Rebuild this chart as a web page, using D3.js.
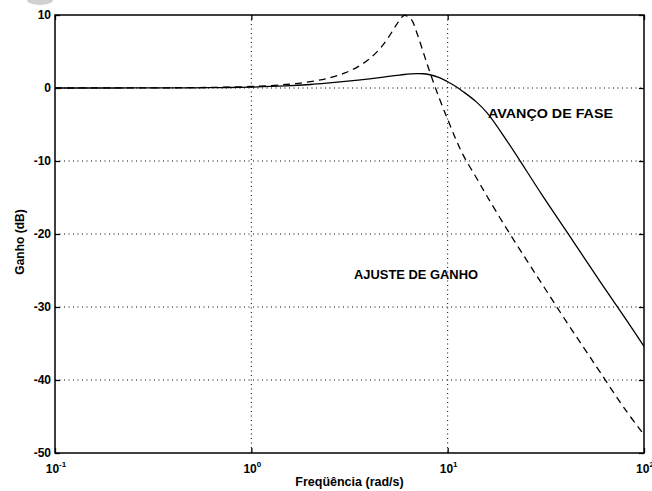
<!DOCTYPE html>
<html>
<head>
  <meta charset=utf-8 />
  <title>ganho</title>
  <script src="https://cdn.jsdelivr.net/npm/d3@7"></script>
  <style>
    body { margin: 0; background: white; }
    text { font-family: "Liberation Sans", Arial, sans-serif; fill: black; }
  </style>
</head>
<body>
<div id="vis"></div>
<script>
var w = 652, h = 491;
var margin = {left: 55, right: 8, top: 15, bottom: 38};

// frequencias lidas (rad/s)
var freq = [0.1, 0.2, 0.3, 0.5, 0.7, 1, 1.5, 2, 2.5, 3, 3.5, 4, 4.5, 5, 5.5, 6, 6.5,
            7, 7.5, 8, 9, 10, 11, 12, 14, 16, 20, 25, 30, 40, 50, 60, 80, 100];
// avanco de fase (linha cheia), dB
var avanco = [0, 0, 0.01, 0.03, 0.06, 0.12, 0.28, 0.48, 0.7, 0.9, 1.08, 1.25, 1.42, 1.58, 1.72, 1.85, 1.93,
              1.97, 1.95, 1.85, 1.45, 0.85, 0.2, -0.5, -1.9, -3.5, -7.2, -11.2, -14.5, -19.5, -23.4, -26.6, -31.5, -35.4];
// ajuste de ganho (tracejada), dB
var ajuste = [0, 0.01, 0.02, 0.05, 0.1, 0.21, 0.48, 0.87, 1.39, 2.07, 2.93, 4.01, 5.34, 6.96, 8.71, 9.93, 9.46,
              7.41, 4.96, 2.67, -1.2, -4.3, -7.0, -9.2, -12.3, -15.0, -19.3, -23.4, -26.7, -31.9, -35.8, -39.0, -44.0, -47.5];

var xTicks = [0.1, 1, 10, 100];
var xExp = ["-1", "0", "1", "2"];
var yTicks = [10, 0, -10, -20, -30, -40, -50];

var svg = d3.select("#vis").append("svg")
  .attr("width", w)
  .attr("height", h);

// mancha cinza do canto
svg.append("ellipse")
  .attr("cx", 40).attr("cy", 0).attr("rx", 13).attr("ry", 5)
  .attr("fill", "#d0d0d0");

var x = d3.scaleLog().domain([0.1, 100]).range([margin.left, w - margin.right]);
var y = d3.scaleLinear().domain([-50, 10]).range([h - margin.bottom, margin.top]);

var x0 = x.range()[0], x1 = x.range()[1];
var y0 = y.range()[1], y1 = y.range()[0];

// grade pontilhada
svg.selectAll(".gx").data(xTicks.slice(1, 3)).enter().append("line")
  .attr("x1", function(d) { return x(d); }).attr("x2", function(d) { return x(d); })
  .attr("y1", y0).attr("y2", y1)
  .attr("stroke", "black").attr("stroke-width", 1).attr("stroke-dasharray", "1,3.5");
svg.selectAll(".gy").data(yTicks.slice(1, 6)).enter().append("line")
  .attr("x1", x0).attr("x2", x1)
  .attr("y1", function(d) { return y(d); }).attr("y2", function(d) { return y(d); })
  .attr("stroke", "black").attr("stroke-width", 1).attr("stroke-dasharray", "1,3.5");

// curvas
var line = d3.line()
  .x(function(d) { return x(d[0]); })
  .y(function(d) { return y(d[1]); })
  .curve(d3.curveCatmullRom.alpha(0.5));

svg.append("path")
  .attr("d", line(d3.zip(freq, ajuste)))
  .attr("fill", "none").attr("stroke", "black").attr("stroke-width", 1.3)
  .attr("stroke-dasharray", "7,5");
svg.append("path")
  .attr("d", line(d3.zip(freq, avanco)))
  .attr("fill", "none").attr("stroke", "black").attr("stroke-width", 1.3);

// eixos (ticks para dentro)
var axB = d3.axisBottom(x).tickValues(xTicks).tickSize(-5).tickFormat("");
var axT = d3.axisTop(x).tickValues(xTicks).tickSize(-5).tickFormat("");
var axL = d3.axisLeft(y).tickValues(yTicks).tickSize(-5).tickFormat("");
var axR = d3.axisRight(y).tickValues(yTicks).tickSize(-5).tickFormat("");
[[axB, "translate(0," + y1 + ")"], [axT, "translate(0," + y0 + ")"],
 [axL, "translate(" + x0 + ",0)"], [axR, "translate(" + x1 + ",0)"]].forEach(function(a) {
  var g = svg.append("g").attr("transform", a[1]).call(a[0]);
  g.selectAll("line").attr("stroke", "black").attr("stroke-width", 1.3);
  g.select(".domain").remove();
});

svg.append("rect")
  .attr("x", x0).attr("y", y0)
  .attr("width", x1 - x0).attr("height", y1 - y0)
  .attr("fill", "none").attr("stroke", "black").attr("stroke-width", 1.5);

// rotulos dos ticks
svg.selectAll(".ty").data(yTicks).enter().append("text")
  .attr("x", x0 - 4)
  .attr("y", function(d) { return y(d) + 4; })
  .attr("text-anchor", "end")
  .attr("font-size", 12).attr("font-weight", "bold")
  .text(function(d) { return d; });

var tx = svg.selectAll(".tx").data(xTicks).enter().append("text")
  .attr("x", function(d) { return x(d) + 1; })
  .attr("y", y1 + 20)
  .attr("text-anchor", "middle")
  .attr("font-size", 12).attr("font-weight", "bold");
tx.append("tspan").text("10");
tx.append("tspan")
  .attr("dy", -6).attr("font-size", 8)
  .text(function(d, i) { return xExp[i]; });

// titulos
svg.append("text")
  .attr("x", (x0 + x1) / 2).attr("y", h - 5)
  .attr("text-anchor", "middle")
  .attr("font-size", 12.5).attr("font-weight", "bold")
  .text("Freqüência (rad/s)");
svg.append("text")
  .attr("transform", "translate(24," + ((y0 + y1) / 2 + 8) + ") rotate(-90)")
  .attr("text-anchor", "middle")
  .attr("font-size", 12).attr("font-weight", "bold")
  .text("Ganho (dB)");

// legendas nas curvas
svg.append("text")
  .attr("x", 488).attr("y", 118)
  .attr("font-size", 12.5).attr("font-weight", "bold")
  .attr("textLength", 125).attr("lengthAdjust", "spacingAndGlyphs")
  .text("AVANÇO DE FASE");
svg.append("text")
  .attr("x", 354).attr("y", 279)
  .attr("font-size", 12.5).attr("font-weight", "bold")
  .attr("textLength", 124).attr("lengthAdjust", "spacingAndGlyphs")
  .text("AJUSTE DE GANHO");
</script>
</body>
</html>
